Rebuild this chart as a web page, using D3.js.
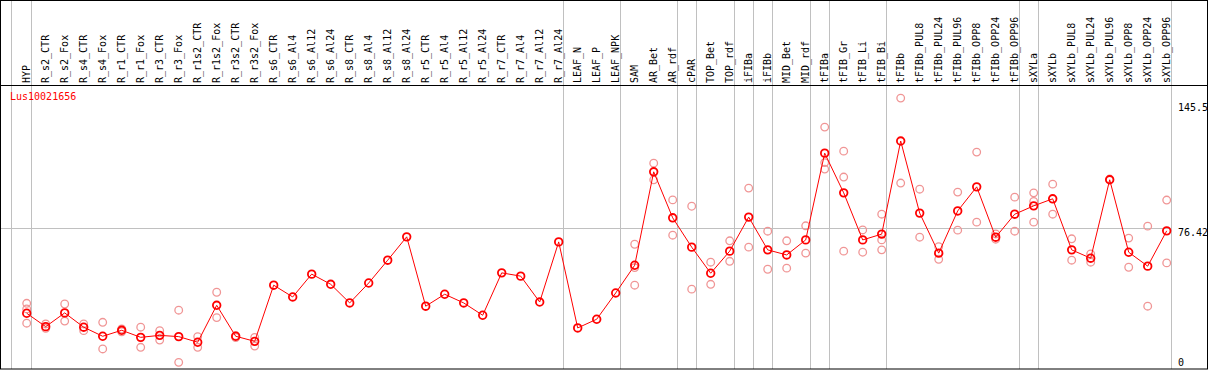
<!DOCTYPE html>
<html>
<head>
<meta charset="utf-8">
<script src="https://cdn.jsdelivr.net/npm/d3@7"></script>
<style>
  body { margin: 0; background: #fff; }
  svg text { font-family: "DejaVu Sans Mono", monospace; font-size: 10px; }
</style>
</head>
<body>
<div id="chart"></div>
<script>
// Sample names (one column each)
const samples = ["HYP", "R_s2_CTR", "R_s2_Fox", "R_s4_CTR", "R_s4_Fox", "R_r1_CTR", "R_r1_Fox",
  "R_r3_CTR", "R_r3_Fox", "R_r1s2_CTR", "R_r1s2_Fox", "R_r3s2_CTR", "R_r3s2_Fox",
  "R_s6_CTR", "R_s6_Al4", "R_s6_Al12", "R_s6_Al24", "R_s8_CTR", "R_s8_Al4", "R_s8_Al12", "R_s8_Al24",
  "R_r5_CTR", "R_r5_Al4", "R_r5_Al12", "R_r5_Al24", "R_r7_CTR", "R_r7_Al4", "R_r7_Al12", "R_r7_Al24",
  "LEAF_N", "LEAF_P", "LEAF_NPK", "SAM", "AR_Bet", "AR_rdf", "cPAR", "TOP_Bet", "TOP_rdf",
  "iFIBa", "iFIBb", "MID_Bet", "MID_rdf", "tFIBa", "tFIB_Gr", "tFIB_Li", "tFIB_Bi",
  "tFIBb", "tFIBb_PUL8", "tFIBb_PUL24", "tFIBb_PUL96", "tFIBb_OPP8", "tFIBb_OPP24", "tFIBb_OPP96",
  "sXYLa", "sXYLb", "sXYLb_PUL8", "sXYLb_PUL24", "sXYLb_PUL96", "sXYLb_OPP8", "sXYLb_OPP24", "sXYLb_OPP96"];

// Mean expression per sample
const means = [29.4, 22.0, 29.6, 21.7, 16.7, 20.0, 16.1, 17.2, 16.5, 13.4, 33.8, 16.7, 13.9,
  44.9, 38.4, 51.0, 45.4, 35.1, 46.1, 58.7, 71.6, 33.3, 39.9, 35.1, 28.3, 51.7, 49.9, 35.6, 68.8,
  21.3, 26.1, 40.6, 55.9, 107.5, 82.1, 65.9, 51.5, 63.7, 82.5, 64.4, 61.6, 69.9,
  117.8, 95.9, 69.9, 73.1, 124.5, 84.7, 62.6, 85.9, 99.2, 71.4, 84.1,
  88.7, 92.6, 64.4, 59.8, 103.1, 63.1, 55.4, 74.9];

// Replicate values per sample
const replicates = [
  [34.9, 31.8, 23.9], [23.5, 21.1], [34.5, 25.1], [23.5, 19.8], [24.4, 9.7], [19.2, 20.7],
  [21.7, 10.6], [19.8, 14.6], [31.1, 2.3], [16.5, 10.6], [41.0, 27.0], [17.0, 16.0], [16.1, 11.3],
  [], [], [], [], [], [], [], [], [], [], [], [], [], [], [], [], [], [], [],
  [67.5, 54.6, 44.9], [112.3, 103.1], [92.0, 72.5], [88.5, 42.7], [57.6, 45.4], [69.4, 58.1],
  [98.5, 65.9], [74.7, 53.7], [69.4, 54.3], [77.7, 62.6],
  [132.2, 112.6, 109.0], [118.9, 104.6, 63.7], [75.4, 63.1], [84.1, 69.9, 64.4],
  [148.2, 101.3], [97.9, 71.4], [66.2, 59.2], [96.3, 75.3], [118.4, 79.7], [73.2, 70.3], [93.5, 74.7],
  [95.9, 91.1, 79.7], [100.7, 84.1], [70.5, 58.7], [62.2, 57.6], [103.5], [70.9, 54.8],
  [77.5, 33.3], [91.9, 57.2]];

// Group separators: drawn after these samples
const groupEnds = ["HYP", "R_r7_Al24", "LEAF_NPK", "AR_rdf", "cPAR", "TOP_rdf", "iFIBa", "iFIBb",
  "MID_rdf", "tFIBa", "tFIB_Bi", "tFIBb_OPP96", "sXYLa", "sXYLb_OPP96"];

const yTicks = [0, 76.42, 145.5];
const geneName = "Lus10021656";

const width = 1209;
const height = 370;

const svg = d3.select("#chart").append("svg")
    .attr("width", width)
    .attr("height", height);

const x = d3.scalePoint()
    .domain(samples)
    .range([26.7, 1166.7]);

const y = d3.scaleLinear()
    .domain([0, 145.5])
    .range([366.5, 103]);

const step = x.step();

// Vertical group separators (full height)
const sepX = [x(samples[0]) - step + 3].concat(groupEnds.map(s => x(s) + 4));
svg.selectAll("line.sep")
    .data(sepX)
    .enter().append("line")
    .attr("x1", d => Math.round(d) + 0.5)
    .attr("x2", d => Math.round(d) + 0.5)
    .attr("y1", 0)
    .attr("y2", 369)
    .attr("stroke", "#c0c0c0")
    .attr("stroke-width", 1);

// Mean reference line
svg.append("line")
    .attr("x1", 0)
    .attr("x2", Math.round(x(samples[samples.length - 1]) + 4) + 0.5)
    .attr("y1", Math.round(y(yTicks[1])) + 0.5)
    .attr("y2", Math.round(y(yTicks[1])) + 0.5)
    .attr("stroke", "#c0c0c0");

// Frame and header separator
svg.append("rect")
    .attr("x", 0.5).attr("y", 0.5)
    .attr("width", 1207).attr("height", 368.5)
    .attr("fill", "none")
    .attr("stroke", "black");

svg.append("line")
    .attr("x1", 0).attr("x2", 1208)
    .attr("y1", 85.5).attr("y2", 85.5)
    .attr("stroke", "black");

// Rotated sample labels
svg.selectAll("text.sample")
    .data(samples)
    .enter().append("text")
    .attr("class", "sample")
    .attr("transform", d => `translate(${x(d) + 3.5},83) rotate(-90)`)
    .attr("fill", "black")
    .text(d => d);

// Gene name
svg.append("text")
    .attr("x", 10)
    .attr("y", 100)
    .attr("fill", "red")
    .text(geneName);

// Right-side value labels
svg.selectAll("text.ytick")
    .data(yTicks)
    .enter().append("text")
    .attr("x", 1178)
    .attr("y", d => Math.min(y(d) + 8, 366))
    .attr("fill", "black")
    .text(d => d);

// Replicate circles
const repPoints = [];
replicates.forEach((reps, i) => reps.forEach(v => repPoints.push({ name: samples[i], value: v })));

svg.selectAll("circle.rep")
    .data(repPoints)
    .enter().append("circle")
    .attr("cx", d => x(d.name))
    .attr("cy", d => y(d.value))
    .attr("r", 3.8)
    .attr("fill", "none")
    .attr("stroke", "#f09595")
    .attr("stroke-width", 1.3);

// Mean line
const line = d3.line()
    .x((d, i) => x(samples[i]))
    .y(d => y(d));

svg.append("path")
    .datum(means)
    .attr("d", line)
    .attr("fill", "none")
    .attr("stroke", "red")
    .attr("stroke-width", 1);

svg.selectAll("circle.mean")
    .data(means)
    .enter().append("circle")
    .attr("cx", (d, i) => x(samples[i]))
    .attr("cy", d => y(d))
    .attr("r", 3.8)
    .attr("fill", "none")
    .attr("stroke", "red")
    .attr("stroke-width", 1.8);
</script>
</body>
</html>
